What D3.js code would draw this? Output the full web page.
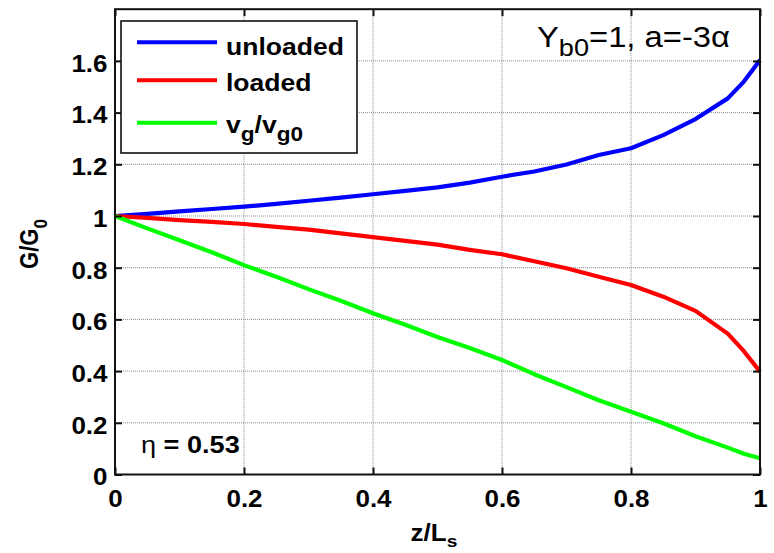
<!DOCTYPE html>
<html>
<head>
<meta charset="utf-8">
<script src="https://cdn.jsdelivr.net/npm/d3@7"></script>
<style>
  html, body { margin: 0; padding: 0; background: #fff; }
  svg { display: block; }
  text { font-family: "Liberation Sans", Arial, sans-serif; fill: #000; }
</style>
</head>
<body>
<svg id="chart" width="774" height="553"></svg>
<script>
// Position along the structure, z/Ls
const zPos = [0, 0.05, 0.1, 0.15, 0.2, 0.25, 0.3, 0.35, 0.4, 0.45, 0.5,
              0.55, 0.6, 0.65, 0.7, 0.75, 0.8, 0.85, 0.9, 0.95, 0.975, 1.0];
// Gain ratio G/G0, unloaded case
const unloaded = [1.000, 1.008, 1.018, 1.027, 1.036, 1.047, 1.059, 1.071, 1.084, 1.097, 1.111,
                  1.129, 1.152, 1.172, 1.199, 1.236, 1.262, 1.313, 1.375, 1.455, 1.520, 1.603];
// Gain ratio G/G0, loaded case
const loaded = [1.000, 0.993, 0.984, 0.977, 0.969, 0.958, 0.947, 0.933, 0.918, 0.904, 0.889,
                0.869, 0.852, 0.825, 0.798, 0.765, 0.733, 0.688, 0.633, 0.545, 0.477, 0.398];
// Group velocity ratio vg/vg0
const vgRatio = [1.000, 0.952, 0.906, 0.860, 0.810, 0.765, 0.717, 0.672, 0.624, 0.579, 0.532,
                 0.489, 0.443, 0.388, 0.338, 0.287, 0.243, 0.198, 0.148, 0.104, 0.080, 0.063];
const xTicks = [0, 0.2, 0.4, 0.6, 0.8, 1];
const yTicks = [0, 0.2, 0.4, 0.6, 0.8, 1, 1.2, 1.4, 1.6];
const seriesNames = ["unloaded", "loaded", "vg/vg0"];
const seriesColors = ["#0000ff", "#ff0000", "#00ff00"];
const etaLabel = "0.53";

const svg = d3.select("#chart");
const plotL = 115, plotR = 760, plotT = 9.2, plotB = 474.5;
const SX = 1.13; // horizontal stretch of the lettering

const x = d3.scaleLinear().domain([0, 1]).range([plotL, plotR]);
const y = d3.scaleLinear().domain([0, 1.8]).range([plotB, plotT]);

// stretch a text element horizontally about its anchor point
function place(sel, px, py) {
  sel.attr("x", 0).attr("y", 0)
     .attr("transform", `translate(${px},${py}) scale(${SX},1)`);
  return sel;
}

// dotted grid
const grid = svg.append("g");
grid.selectAll("line.gx").data(xTicks.slice(1, -1)).join("line")
  .attr("class", "gx")
  .attr("x1", d => x(d)).attr("x2", d => x(d))
  .attr("y1", plotT).attr("y2", plotB)
  .attr("stroke", "#8c8c8c").attr("stroke-width", 1).attr("stroke-dasharray", "1,1");
grid.selectAll("line.gy").data(yTicks.slice(1)).join("line")
  .attr("class", "gy")
  .attr("x1", plotL).attr("x2", plotR)
  .attr("y1", d => y(d)).attr("y2", d => y(d))
  .attr("stroke", "#8c8c8c").attr("stroke-width", 1).attr("stroke-dasharray", "1,1");

// data lines
const allSeries = [unloaded, loaded, vgRatio];
const line = d3.line().x((d, i) => x(zPos[i])).y(d => y(d));
svg.append("g").selectAll("path").data(allSeries).join("path")
  .attr("d", d => line(d))
  .attr("fill", "none")
  .attr("stroke", (d, i) => seriesColors[i])
  .attr("stroke-width", 4.2)
  .attr("stroke-linejoin", "round");

// axes with inward ticks
const tickLen = 7;
const axB = svg.append("g").attr("transform", `translate(0,${plotB})`)
  .call(d3.axisBottom(x).tickValues(xTicks).tickSize(-tickLen).tickFormat(d3.format("")));
const axT = svg.append("g").attr("transform", `translate(0,${plotT})`)
  .call(d3.axisTop(x).tickValues(xTicks).tickSize(-tickLen).tickFormat(""));
const axL = svg.append("g").attr("transform", `translate(${plotL},0)`)
  .call(d3.axisLeft(y).tickValues(yTicks).tickSize(-tickLen).tickFormat(d3.format("")));
const axR = svg.append("g").attr("transform", `translate(${plotR},0)`)
  .call(d3.axisRight(y).tickValues(yTicks).tickSize(-tickLen).tickFormat(""));

[axB, axT, axL, axR].forEach(a => {
  a.select(".domain").remove();
  a.selectAll(".tick line").attr("stroke", "#111").attr("stroke-width", 2);
});
axB.selectAll(".tick text")
  .attr("font-size", 23).attr("font-weight", "bold").attr("text-anchor", "middle")
  .attr("dy", null).attr("fill", "#000")
  .each(function () { place(d3.select(this), 0, 32.5); });
axL.selectAll(".tick text")
  .attr("font-size", 23).attr("font-weight", "bold").attr("text-anchor", "end")
  .attr("dy", null).attr("fill", "#000")
  .each(function () { place(d3.select(this), -7.5, 10.3); });

// axes box
svg.append("rect")
  .attr("x", plotL).attr("y", plotT)
  .attr("width", plotR - plotL).attr("height", plotB - plotT)
  .attr("fill", "none").attr("stroke", "#111").attr("stroke-width", 2);

// axis titles
const xl = svg.append("text").attr("font-size", 23).attr("font-weight", "bold")
  .attr("text-anchor", "middle");
xl.append("tspan").text("z/L");
xl.append("tspan").attr("font-size", 17).attr("dy", 6).text("s");
place(xl, 434, 541);

const yl = svg.append("text").attr("font-size", 22).attr("font-weight", "bold")
  .attr("text-anchor", "middle");
yl.append("tspan").text("G/G");
yl.append("tspan").attr("font-size", 17).attr("dy", 8).text("0");
yl.attr("x", 0).attr("y", 0)
  .attr("transform", `translate(38,244) rotate(-90) scale(1,${SX})`);

// annotation text
const ann = svg.append("text").attr("font-size", 29);
ann.append("tspan").text("Y");
ann.append("tspan").attr("font-size", 24).attr("dy", 9).text("b0");
ann.append("tspan").attr("dy", -9).text("=1, a=-3α");
place(ann, 537, 47);

const eta = svg.append("text").attr("font-size", 24);
eta.append("tspan").text("η");
eta.append("tspan").attr("font-weight", "bold").text(" = " + etaLabel);
place(eta, 141, 453);

// legend
const lg = svg.append("g");
lg.append("rect").attr("x", 121).attr("y", 21).attr("width", 236).attr("height", 132)
  .attr("fill", "#fff").attr("stroke", "#111").attr("stroke-width", 1.6);
const rowLineY = [42.3, 80.3, 122.7];
const rowTextY = [55, 91, 133];
seriesNames.forEach((name, i) => {
  lg.append("line").attr("x1", 137).attr("x2", 217)
    .attr("y1", rowLineY[i]).attr("y2", rowLineY[i])
    .attr("stroke", seriesColors[i]).attr("stroke-width", 4);
  const t = lg.append("text").attr("font-size", 23.5).attr("font-weight", "bold");
  if (name === "vg/vg0") {
    t.append("tspan").text("v");
    t.append("tspan").attr("font-size", 20).attr("dy", 8).text("g");
    t.append("tspan").attr("dy", -8).text("/v");
    t.append("tspan").attr("font-size", 20).attr("dy", 8).text("g0");
  } else {
    t.text(name);
  }
  place(t, 226, rowTextY[i]);
});
</script>
</body>
</html>
